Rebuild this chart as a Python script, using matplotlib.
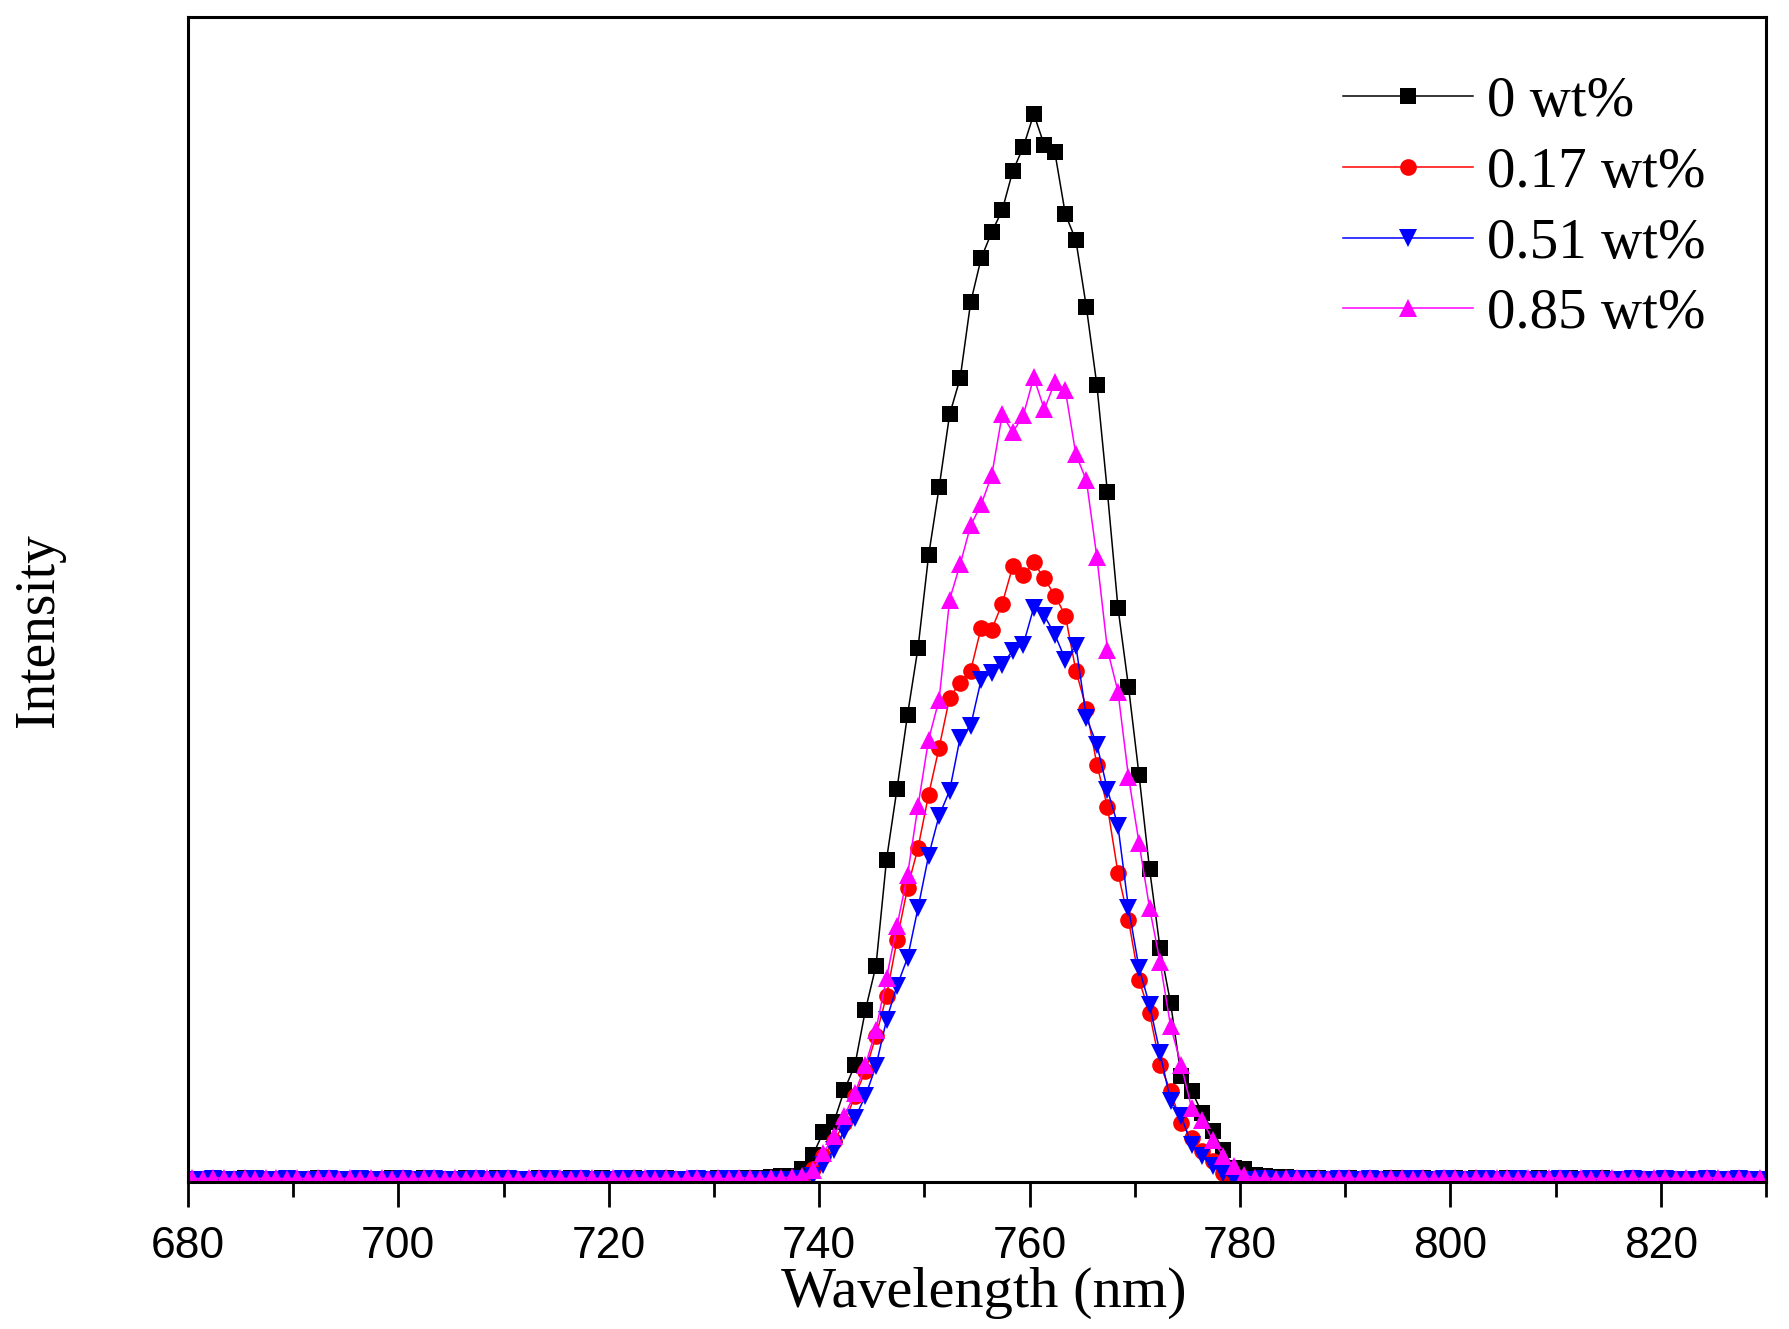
import matplotlib.pyplot as plt
import numpy as np

# wavelength grid (nm), 1 nm steps
wavelength = np.arange(680.4, 830.0, 1.0)

# intensities (a.u.), index 0 -> 680.4 nm
base_0 = [2, 2, 3, 2, 2, 3, 2, 2, 2, 3, 2, 2, 3, 2, 2, 2, 3, 2, 2, 3,
          2, 2, 3, 2, 2, 2, 3, 2, 2, 3, 2, 2, 2, 3, 2, 2, 3, 2, 2, 3,
          2, 2, 3, 2, 2, 3, 2, 2, 3, 2, 3, 2, 3, 3]
peak_0 = [3, 4, 5, 5, 12, 26, 49, 59, 91, 116, 171, 215, 321, 392, 466, 533,
          625, 693, 766, 802, 878, 922, 948, 970, 1009, 1033, 1066, 1035,
          1028, 966, 940, 873, 795, 688, 573, 494, 406, 312, 233, 178, 105,
          90, 68, 50, 31, 13, 12, 6, 5, 4]
tail_0 = [4, 3, 3, 3, 2, 3, 3, 2, 3, 2, 3, 3, 2, 3, 2, 2, 3, 2, 3, 2,
          2, 3, 2, 2, 3, 2, 2, 3, 2, 2, 3, 2, 2, 3, 2, 2, 3, 2, 2, 2,
          3, 2, 2, 3, 2, 2]

base_17 = [1, 2, 1, 1, 2, 1, 1, 1, 2, 1, 1, 2, 1, 1, 1, 2, 1, 1, 2, 1,
           1, 1, 2, 1, 1, 2, 1, 1, 1, 2, 1, 1, 2, 1, 1, 1, 2, 1, 1, 2,
           1, 1, 1, 2, 1, 1, 2, 1, 1, 1, 2, 1, 1, 1, 1, 1, 1, 1, 2]
peak_17 = [12, 25, 40, 58, 85, 110, 145, 185, 241, 293, 333, 386, 433, 483,
           498, 510, 553, 551, 577, 614, 605, 618, 602, 585, 565, 510, 472,
           416, 374, 308, 261, 201, 168, 116, 90, 58, 43, 30, 20, 8, 4, 3]
tail_17 = [2, 2, 1, 2, 1, 2, 2, 1, 2, 1, 1, 2, 1, 2, 1, 1, 2, 1, 2, 1,
           1, 2, 1, 1, 2, 1, 1, 2, 1, 1, 2, 1, 1, 2, 1, 1, 2, 1, 1, 2,
           1, 1, 2, 1, 1, 2, 1, 1, 1]

base_51 = [1, 1, 2, 1, 1, 1, 2, 1, 1, 2, 1, 1, 1, 2, 1, 1, 2, 1, 1, 1,
           2, 1, 1, 2, 1, 1, 1, 2, 1, 1, 2, 1, 1, 1, 2, 1, 1, 2, 1, 1,
           1, 2, 1, 1, 2, 1, 1, 1, 2, 1, 1, 2, 1, 1, 1, 1, 1, 1, 2]
peak_51 = [5, 16, 31, 50, 63, 85, 115, 161, 195, 223, 273, 325, 365, 390,
           443, 455, 501, 508, 516, 530, 536, 573, 565, 546, 521, 535, 463,
           436, 391, 355, 273, 213, 176, 128, 80, 65, 36, 25, 15, 8, 2]
tail_51 = [1, 1, 2, 1, 1, 2, 1, 1, 1, 2, 1, 1, 2, 1, 1, 1, 2, 1, 1, 2,
           1, 1, 1, 2, 1, 1, 2, 1, 1, 1, 2, 1, 1, 2, 1, 1, 1, 2, 1, 1,
           2, 1, 1, 1, 2, 1, 1, 2, 1, 1]

base_85 = [3, 2, 3, 3, 2, 3, 2, 3, 3, 2, 3, 2, 3, 3, 2, 3, 2, 3, 3, 2,
           3, 2, 3, 3, 2, 3, 2, 3, 3, 2, 3, 2, 3, 3, 2, 3, 2, 3, 3, 2,
           3, 2, 3, 3, 2, 3, 2, 3, 3, 2, 3, 2, 3, 3, 2, 3, 3, 4, 5]
peak_85 = [11, 28, 45, 65, 88, 116, 151, 203, 255, 306, 375, 441, 481, 581,
           616, 655, 676, 705, 766, 748, 765, 803, 771, 798, 790, 726, 700,
           623, 531, 489, 404, 338, 273, 219, 155, 116, 73, 61, 41, 25, 15,
           6, 3]
tail_85 = [3, 2, 3, 3, 2, 3, 2, 3, 3, 2, 3, 2, 3, 3, 2, 3, 2, 3, 3, 2,
           3, 2, 3, 3, 2, 3, 2, 3, 3, 2, 3, 2, 3, 3, 2, 3, 2, 3, 3, 2,
           3, 2, 3, 3, 2, 3, 2, 3]

series = [
    ('0 wt%', base_0 + peak_0 + tail_0, 'black', 's', 12),
    ('0.17 wt%', base_17 + peak_17 + tail_17, '#ff0000', 'o', 12),
    ('0.51 wt%', base_51 + peak_51 + tail_51, '#0000ff', 'v', 13),
    ('0.85 wt%', base_85 + peak_85 + tail_85, '#ff00ff', '^', 13),
]

fig = plt.figure(figsize=(17.9, 13.29), dpi=100)
ax = fig.add_axes([0.105, 0.1106, 0.8816, 0.8766])

for label, vals, color, marker, ms in series:
    n = min(len(vals), len(wavelength))
    ax.plot(wavelength[:n], vals[:n], '-', color=color, lw=1.1,
            marker=marker, markersize=ms, markeredgewidth=0, label=label)

ax.set_xlim(680, 830)
ax.set_ylim(-1, 1163)
ax.set_xticks(np.arange(680, 831, 20))
ax.set_xticks(np.arange(690, 831, 20), minor=True)
ax.set_yticks([])
ax.tick_params(axis='x', which='major', direction='out', length=18, width=2,
               pad=14, labelsize=32)
ax.tick_params(axis='x', which='minor', direction='out', length=11, width=2)
for lab in ax.get_xticklabels():
    lab.set_fontfamily('Liberation Sans')
for sp in ax.spines.values():
    sp.set_linewidth(2.2)

fig.text(0.5497, 0.017, 'Wavelength (nm)', ha='center', va='baseline',
         fontsize=42, family='Liberation Serif')
fig.text(0.022, 0.526, 'Intensity', ha='center', va='center', rotation=90,
         fontsize=40, family='Liberation Serif')

leg = ax.legend(loc='upper left', bbox_to_anchor=(1343 / 1790, 1 - 76 / 1329),
                bbox_transform=fig.transFigure, frameon=False, numpoints=1,
                prop={'family': 'Liberation Serif', 'size': 41},
                handlelength=2.28, handletextpad=0.25, labelspacing=0.33,
                borderpad=0, borderaxespad=0)

fig.savefig('out.png', dpi=100)
